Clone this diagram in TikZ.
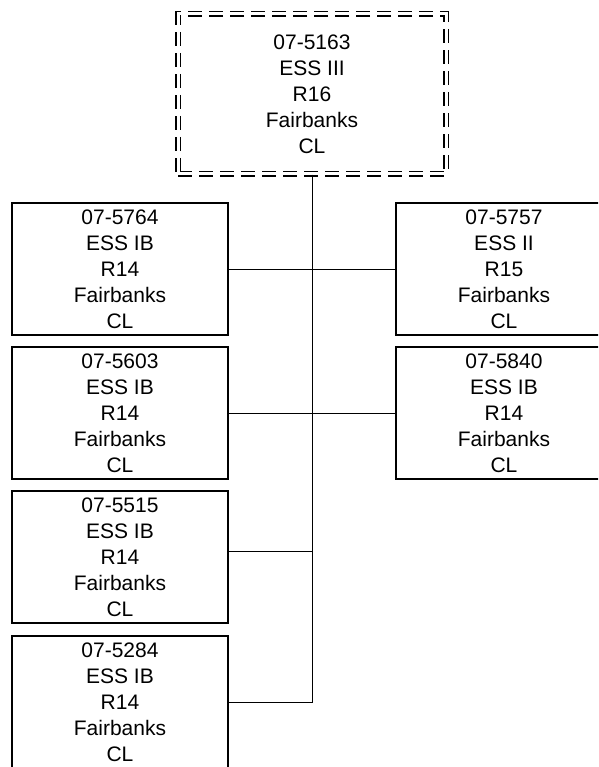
\documentclass[tikz,border=0pt]{standalone}
\usepackage{fontspec}
\setmainfont{Liberation Sans}
\tikzset{
    unit/.style={draw,line width=1.4pt,minimum width=216pt,minimum height=132pt,
        inner sep=0pt,align=center,font=\fontsize{21}{26}\selectfont},
    head/.style={unit,double,double distance=3pt,line width=1.1pt,
        dash pattern=on 14pt off 7pt,minimum width=268pt,minimum height=160pt},
    link/.style={line width=1pt}
}
\begin{document}
\begin{tikzpicture}[x=1pt,y=-1pt]
    \useasboundingbox (0,0) rectangle (598,767);
    \clip (0,0) rectangle (598,767);
    \node[head] (n5163) at (312,94) {07-5163\\ESS III\\R16\\Fairbanks\\CL};
    \node[unit] (n5764) at (120,269) {07-5764\\ESS IB\\R14\\Fairbanks\\CL};
    \node[unit] (n5603) at (120,413) {07-5603\\ESS IB\\R14\\Fairbanks\\CL};
    \node[unit] (n5515) at (120,557) {07-5515\\ESS IB\\R14\\Fairbanks\\CL};
    \node[unit] (n5284) at (120,702) {07-5284\\ESS IB\\R14\\Fairbanks\\CL};
    \node[unit] (n5757) at (504,269) {07-5757\\ESS II\\R15\\Fairbanks\\CL};
    \node[unit] (n5840) at (504,413) {07-5840\\ESS IB\\R14\\Fairbanks\\CL};
    % trunk and branches
    \draw[link] (n5163.south) |- (n5284.east);
    \draw[link] (n5764.east) -- (n5757.west);
    \draw[link] (n5603.east) -- (n5840.west);
    \draw[link] ([yshift=6pt]n5515.east) -- ([yshift=6pt]n5515.east -| n5163.south);
\end{tikzpicture}
\end{document}
